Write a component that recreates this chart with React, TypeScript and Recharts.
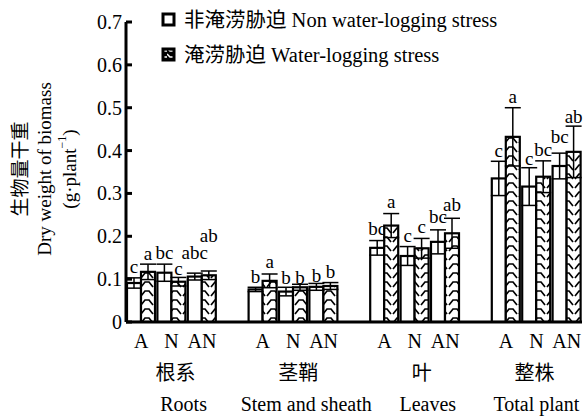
import React from 'react';
import { BarChart, Bar, XAxis, YAxis, ErrorBar, Legend } from 'recharts';

const FONT = "Liberation Serif, Times New Roman, Noto Sans CJK SC, serif";

const groupsZh = ['根系', '茎鞘', '叶', '整株'];
const groupsEn = ['Roots', 'Stem and sheath', 'Leaves', 'Total plant'];
const treatments = ['A', 'N', 'AN'];

const nonStress = [0.091, 0.115, 0.106, 0.076, 0.071, 0.082, 0.173, 0.154, 0.187, 0.335, 0.316, 0.364];
const nonStressErr = [0.012, 0.02, 0.008, 0.005, 0.01, 0.008, 0.017, 0.022, 0.028, 0.04, 0.044, 0.03];
const stress = [0.117, 0.094, 0.109, 0.096, 0.081, 0.084, 0.225, 0.172, 0.207, 0.432, 0.339, 0.397];
const stressErr = [0.018, 0.01, 0.01, 0.016, 0.007, 0.008, 0.028, 0.023, 0.035, 0.068, 0.037, 0.06];

const nonLetters = ['c', 'bc', 'abc', 'b', 'b', 'b', 'bc', 'c', 'bc', 'c', 'c', 'bc'];
const stressLetters = ['a', 'c', 'ab', 'a', 'b', 'b', 'a', 'c', 'ab', 'a', 'bc', 'ab'];
const nonLetterY = [0.114, 0.147, 0.147, 0.091, 0.089, 0.094, 0.203, 0.187, 0.231, 0.385, 0.366, 0.418];
const stressLetterY = [0.145, 0.11, 0.186, 0.126, 0.089, 0.103, 0.266, 0.208, 0.259, 0.511, 0.387, 0.464];

const yTicks = [0, 0.1, 0.2, 0.3, 0.4, 0.5, 0.6, 0.7];

const legendNames = ['非淹涝胁迫 Non water-logging stress', '淹涝胁迫 Water-logging stress'];

// layout: horizontal nudges (px) of the group captions relative to the middle tick
const zhShift = [4, 5, 7, -2];
const enShift = [12, 13, 13, 0];

type Row = {
  slot: string; label: string; group: number; mid: boolean;
  non: number | null; nonErr: number | null; stress: number | null; stressErr: number | null;
  nonLetter: string; stressLetter: string; nonLetterY: number; stressLetterY: number;
};

const data: Row[] = [];
groupsZh.forEach((_, gi) => {
  treatments.forEach((t, ti) => {
    const i = gi * 3 + ti;
    data.push({
      slot: `${gi}-${ti}`, label: t, group: gi, mid: ti === 1,
      non: nonStress[i], nonErr: nonStressErr[i], stress: stress[i], stressErr: stressErr[i],
      nonLetter: nonLetters[i], stressLetter: stressLetters[i],
      nonLetterY: nonLetterY[i], stressLetterY: stressLetterY[i],
    });
  });
  if (gi < groupsZh.length - 1) {
    data.push({
      slot: `gap${gi}`, label: '', group: gi, mid: false,
      non: null, nonErr: null, stress: null, stressErr: null,
      nonLetter: '', stressLetter: '', nonLetterY: 0, stressLetterY: 0,
    });
  }
});

const makeShape = (kind: 'non' | 'stress') => (props: any) => {
  const { x, y, width, height, payload } = props;
  if (!payload || payload[kind] == null || !height) return <g />;
  const value = payload[kind];
  const ppu = height / value;
  const base = y + height;
  const ly = base - payload[kind + 'LetterY'] * ppu;
  return (
    <g>
      <rect x={x} y={y} width={width} height={height}
        fill={kind === 'non' ? '#fff' : 'url(#waterlog)'} stroke="#000" strokeWidth={2.2} />
      <text x={x + width / 2} y={ly} textAnchor="middle" fontSize={19} fontFamily={FONT} fill="#000">
        {payload[kind + 'Letter']}
      </text>
    </g>
  );
};

const YTick = (props: any) => {
  const { x, y, payload } = props;
  const v = payload.value;
  return (
    <g>
      <line x1={x + 4} x2={x + 10} y1={y} y2={y} stroke="#000" strokeWidth={3} />
      <text x={x} y={y + 7} textAnchor="end" fontSize={20} fontFamily={FONT} fill="#000">
        {v === 0 ? '0' : v.toFixed(1)}
      </text>
    </g>
  );
};

const XTick = (props: any) => {
  const { x, y, index } = props;
  const row = data[index];
  if (!row) return <g />;
  return (
    <g>
      <text x={x} y={y + 26} textAnchor="middle" fontSize={20} fontFamily={FONT} fill="#000">{row.label}</text>
      {row.mid && (
        <>
          <text x={x + zhShift[row.group]} y={y + 58} textAnchor="middle" fontSize={20} fontFamily={FONT} fill="#000">{groupsZh[row.group]}</text>
          <text x={x + enShift[row.group]} y={y + 89} textAnchor="middle" fontSize={20} fontFamily={FONT} fill="#000">{groupsEn[row.group]}</text>
        </>
      )}
    </g>
  );
};

const YLabel = (props: any) => {
  const vb = props.viewBox || { x: 0, y: 22, width: 126, height: 300 };
  const cy = vb.y + vb.height / 2 - 3;
  const lines = ['生物量干重', 'Dry weight of biomass'];
  const xs = [vb.x + 20, vb.x + 44, vb.x + 69];
  return (
    <g>
      {lines.map((t, i) => (
        <text key={i} x={xs[i]} y={cy} transform={`rotate(-90, ${xs[i]}, ${cy})`} textAnchor="middle"
          dominantBaseline="central" fontSize={19} fontFamily={FONT} fill="#000">{t}</text>
      ))}
      <text x={xs[2]} y={cy} transform={`rotate(-90, ${xs[2]}, ${cy})`} textAnchor="middle"
        dominantBaseline="central" fontSize={19} fontFamily={FONT} fill="#000">
        (g·plant<tspan dy={-7} fontSize={12}>−1</tspan><tspan dy={7}>)</tspan>
      </text>
    </g>
  );
};

const LegendContent = () => (
  <div style={{ fontFamily: FONT, fontSize: 20.5, color: '#000', lineHeight: '20px' }}>
    {legendNames.map((name, i) => (
      <div key={i} style={{ display: 'flex', alignItems: 'center', height: 35, whiteSpace: 'nowrap' }}>
        <svg width={16} height={16} style={{ marginRight: 7 }}>
          <rect x={2} y={2} width={11} height={11} fill={i === 0 ? '#fff' : 'url(#waterlogSmall)'} stroke="#000" strokeWidth={3} />
        </svg>
        <span>{name}</span>
      </div>
    ))}
  </div>
);

export default function App() {
  return (
    <div style={{ position: 'absolute', left: 0, top: 0, width: 584, height: 416, background: '#fff' }}>
      <BarChart width={584} height={416} data={data} margin={{ top: 22, right: 2, left: 0, bottom: 0 }}
        barGap={0} barSize={14} barCategoryGap={0}>
        <defs>
          <pattern id="waterlog" patternUnits="userSpaceOnUse" width={14} height={9}>
            <rect width={14} height={9} fill="#fff" />
            <path d="M1,8 L5,3 L9,3 L13,8" fill="none" stroke="#000" strokeWidth={1.7} />
          </pattern>
          <pattern id="waterlogSmall" patternUnits="userSpaceOnUse" width={6} height={6}>
            <rect width={6} height={6} fill="#000" />
            <path d="M0,1 L3,4 L6,4" fill="none" stroke="#fff" strokeWidth={1.5} />
          </pattern>
        </defs>
        <XAxis dataKey="slot" type="category" height={94} interval={0} tickSize={0} tickMargin={0}
          axisLine={{ stroke: '#000', strokeWidth: 3 }} tickLine={false} tick={<XTick />} />
        <YAxis type="number" domain={[0, 0.7]} ticks={yTicks} width={126} tickSize={0} tickMargin={4}
          axisLine={{ stroke: '#000', strokeWidth: 3 }} tickLine={false} tick={<YTick />}
          allowDataOverflow label={{ content: <YLabel /> }} />
        <Legend layout="vertical" align="center" verticalAlign="middle" content={<LegendContent />}
          wrapperStyle={{ left: 161, top: 2, width: 420, height: 70 }} />
        <Bar dataKey="non" isAnimationActive={false} shape={makeShape('non')}>
          <ErrorBar dataKey="nonErr" width={8} stroke="#000" strokeWidth={1.5} direction="y" />
        </Bar>
        <Bar dataKey="stress" isAnimationActive={false} shape={makeShape('stress')}>
          <ErrorBar dataKey="stressErr" width={8} stroke="#000" strokeWidth={1.5} direction="y" />
        </Bar>
      </BarChart>
    </div>
  );
}
